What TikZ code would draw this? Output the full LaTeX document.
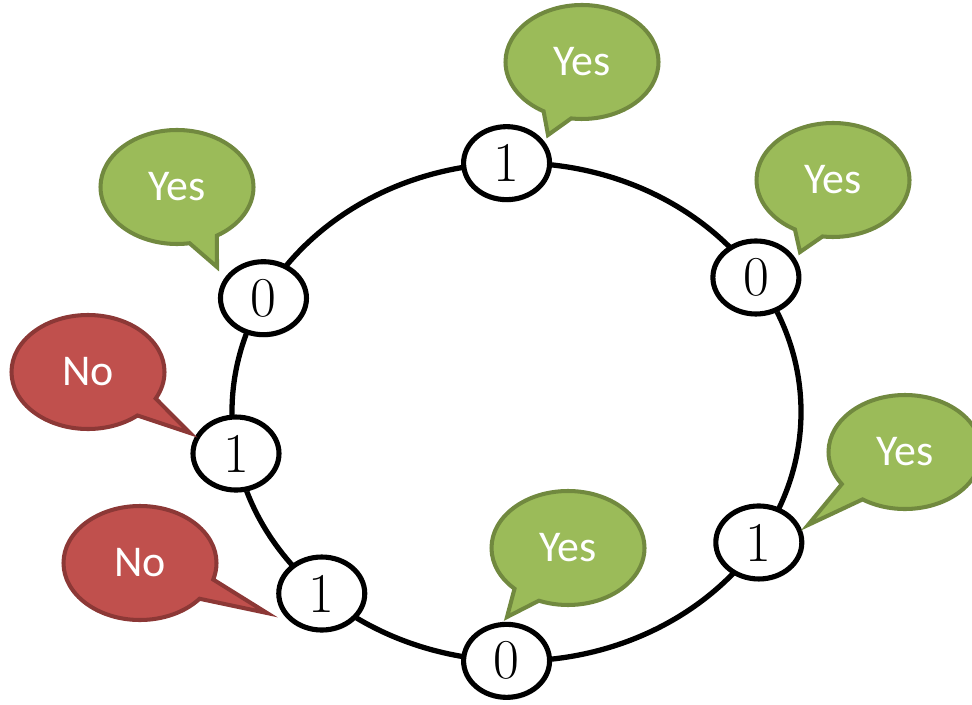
\documentclass[tikz,border=0pt]{standalone}
\usepackage{fontspec}
\newfontfamily\calloutfont{Carlito}
\usetikzlibrary{shapes.geometric,shapes.callouts,shadows}
\definecolor{yesfill}{HTML}{9BBB59}
\definecolor{yesline}{HTML}{71893F}
\definecolor{nofill}{HTML}{C0504D}
\definecolor{noline}{HTML}{8C3836}

\begin{document}
\begin{tikzpicture}[
	bit/.style={draw,ellipse,fill=white,line width=2.9pt,minimum width=1.72cm,minimum height=1.46cm,inner sep=0pt,font=\fontsize{32}{32}\selectfont,drop shadow={shadow xshift=0.6pt,shadow yshift=-1.5pt,opacity=0.3}},
	reply/.style={ellipse callout,draw,line width=2.3pt,minimum width=3.06cm,minimum height=2.28cm,callout pointer arc=22,text=white,font=\calloutfont\fontsize{25}{25}\selectfont},
	yes/.style={reply,fill=yesfill,draw=yesline},
	no/.style={reply,fill=nofill,draw=noline}]
	\useasboundingbox (0,0) rectangle (19.44,14.08);
	\coordinate (ring) at (10.33,5.84);
	\draw[line width=3pt] (ring) ellipse [x radius=5.69, y radius=4.98];

	% the bits sitting on the ring
	\node[bit] (top) at ([shift={(ring)}]92:5.69 and 4.98) {1};
	\node[bit] (ne) at ([shift={(ring)}]32.7:5.69 and 4.98) {0};
	\node[bit] (se) at ([shift={(ring)}]-31.6:5.69 and 4.98) {1};
	\node[bit] (bot) at ([shift={(ring)}]268:5.69 and 4.98) {0};
	\node[bit] (sw) at ([shift={(ring)}]226.8:5.69 and 4.98) {1};
	\node[bit] (west) at ([shift={(ring)}]189.6:5.69 and 4.98) {1};
	\node[bit] (nw) at ([shift={(ring)}]152.8:5.69 and 4.98) {0};

	% answers
	\coordinate (top tip) at (10.96,11.38);
	\coordinate (ne tip) at (16.0,9.04);
	\coordinate (se tip) at (16.16,3.58);
	\coordinate (bot tip) at (10.14,1.74);
	\coordinate (sw tip) at (5.34,1.82);
	\coordinate (west tip) at (3.8,5.42);
	\coordinate (nw tip) at (4.34,8.74);
	\node[yes,callout absolute pointer={(top tip)}] (top reply) at (11.64,12.84) {Yes};
	\node[yes,callout absolute pointer={(ne tip)}] (ne reply) at (16.66,10.48) {Yes};
	\node[yes,callout absolute pointer={(se tip)}] (se reply) at (18.1,5.04) {Yes};
	\node[yes,callout absolute pointer={(bot tip)}] (bot reply) at (11.36,3.12) {Yes};
	\node[no,callout absolute pointer={(sw tip)}] (sw reply) at (2.8,2.82) {No};
	\node[no,callout absolute pointer={(west tip)}] (west reply) at (1.76,6.64) {No};
	\node[yes,callout absolute pointer={(nw tip)}] (nw reply) at (3.54,10.34) {Yes};
\end{tikzpicture}
\end{document}
